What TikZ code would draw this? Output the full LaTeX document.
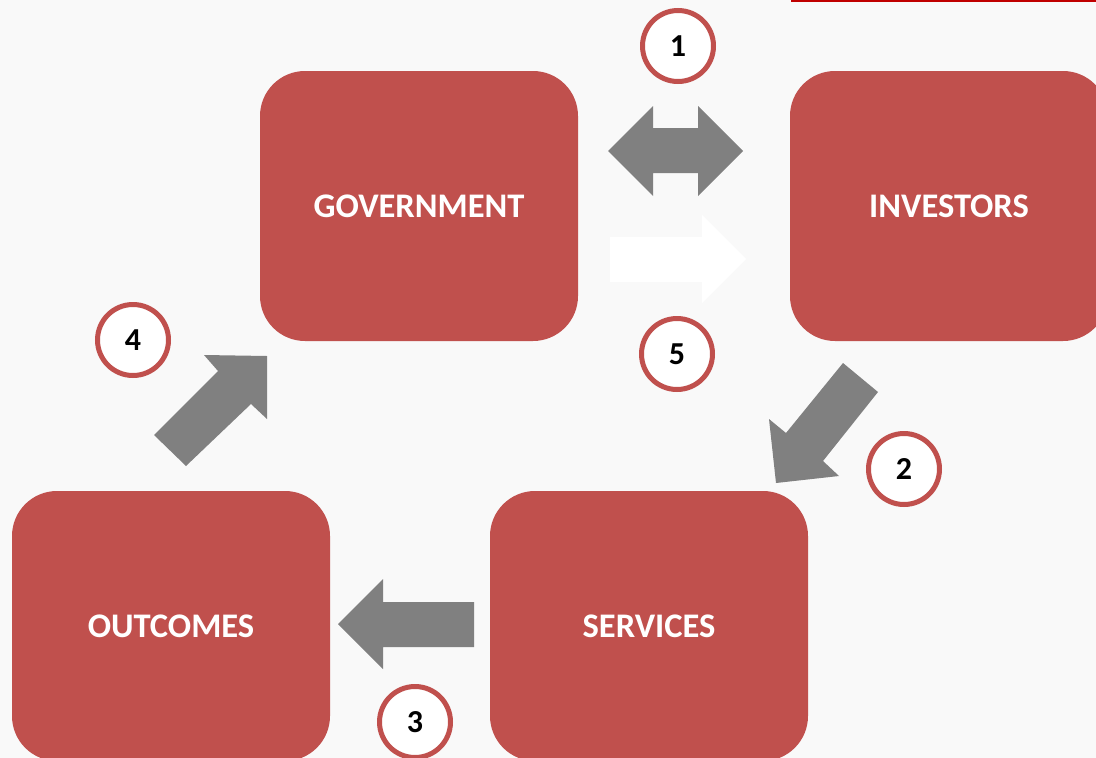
\documentclass[tikz,border=0pt]{standalone}
\usepackage{fontspec}
\setmainfont{Carlito}
\definecolor{bg}{HTML}{F9F9F9}
\definecolor{boxred}{HTML}{C0504D}
\definecolor{linered}{HTML}{C00000}
\definecolor{arrowgray}{HTML}{808080}
\tikzset{
  stage/.style={fill=boxred, rounded corners=45pt, minimum width=318pt, minimum height=270pt, inner sep=0pt, text=white, font=\fontsize{34.5}{34.5}\selectfont\bfseries},
  numcircle/.style={circle, draw=boxred, line width=5pt, fill=white, minimum size=71pt, inner sep=0pt, font=\fontsize{32}{32}\selectfont\bfseries},
  blockarrow/.style={fill=arrowgray, draw=none},
}
\begin{document}
\begin{tikzpicture}[x=1pt,y=-1pt]
\useasboundingbox (0,0) rectangle (1096,758);
\fill[bg] (0,0) rectangle (1096,758);
\fill[linered] (791,0) rectangle (1096,2);
% stages
\node[stage] (gov) at (419,206) {GOVERNMENT};
\node[stage] (inv) at (949,206) {INVESTORS};
\node[stage] (ser) at (649,626) {SERVICES};
\node[stage] (out) at (171,626) {OUTCOMES};
% numbered circles
\node[numcircle] (n1) at (678,46) {1};
\node[numcircle] (n2) at (904,469) {2};
\node[numcircle] (n3) at (415,722) {3};
\node[numcircle] (n4) at (133,340) {4};
\node[numcircle] (n5) at (677,354) {5};
% block arrows
\fill[blockarrow] (608,151) -- (653,106) -- (653,128) -- (698,128) -- (698,106) -- (743,151) -- (698,196) -- (698,173) -- (653,173) -- (653,196) -- cycle;
\fill[white] (610,237) -- (702,237) -- (702,215) -- (746,259) -- (702,303) -- (702,282) -- (610,282) -- cycle;
\fill[blockarrow] (843,363) -- (878,392) -- (823,461) -- (839,476) -- (776,483) -- (769,419) -- (786,433) -- cycle;
\fill[blockarrow] (474,602) -- (383,602) -- (383,579) -- (338,624) -- (383,669) -- (383,647) -- (474,647) -- cycle;
\fill[blockarrow] (154,435) -- (186,466) -- (251,404) -- (267,419) -- (267,356) -- (204,355) -- (218,371) -- cycle;
\end{tikzpicture}
\end{document}
